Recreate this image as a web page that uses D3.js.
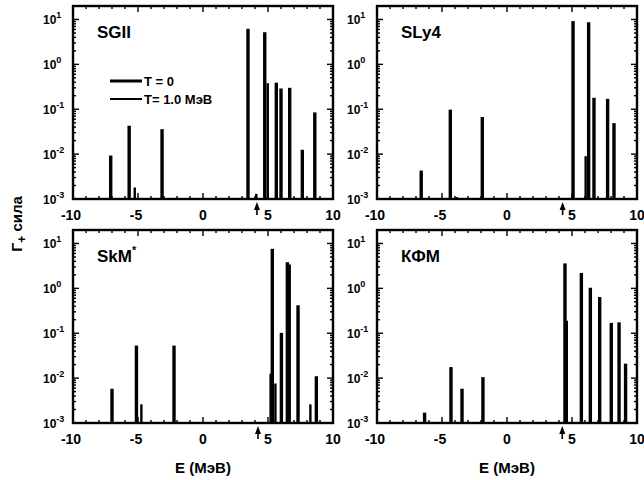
<!DOCTYPE html>
<html>
<head>
<meta charset="utf-8">
<script src="https://cdn.jsdelivr.net/npm/d3@7"></script>
<style>
  body { margin: 0; background: #fff; }
  text { font-family: "Liberation Sans", Arial, sans-serif; font-weight: bold; fill: #000; }
</style>
</head>
<body>
<svg id="chart" width="644" height="480"></svg>
<script>
// panel names
var panelNames = ["SGII", "SLy4", "SkM", "КФМ"]

// T = 0 (thick lines)
var energyT0 = [
    [-7.1, -5.68, -3.15, 3.46, 4.75, 5.64, 6.0, 6.67, 7.64, 8.6],
    [-6.6, -4.36, -1.9, 5.08, 6.28, 6.69, 7.74, 8.23],
    [-7.0, -5.12, -2.23, 5.33, 6.03, 6.49, 7.31, 8.72],
    [-6.34, -4.31, -3.46, -1.85, 4.46, 5.72, 6.41, 7.13, 8.02, 8.62, 9.12]
]
var strengthT0 = [
    [0.0093, 0.043, 0.036, 6.2, 5.2, 0.39, 0.29, 0.30, 0.0125, 0.085],
    [0.0043, 0.098, 0.067, 9.2, 8.7, 0.18, 0.17, 0.049],
    [0.0058, 0.053, 0.053, 7.6, 0.102, 3.8, 0.42, 0.011],
    [0.0017, 0.0176, 0.0058, 0.0105, 3.6, 2.2, 1.03, 0.64, 0.17, 0.175, 0.021]
]

// T = 1.0 MeV (thin lines)
var energyT1 = [
    [-5.25, 4.1, 4.98],
    [-3.85, 6.05],
    [-4.74, 5.2, 5.57, 6.67, 8.26],
    [4.6]
]
var strengthT1 = [
    [0.0018, 0.0013, 0.38],
    [0.0011, 0.009],
    [0.0026, 0.0125, 0.0076, 3.4, 0.0026],
    [0.19]
]

// threshold arrows
var arrowE = [4.15, 4.28, 4.23, 4.25]

var xTicks = [-10, -5, 0, 5, 10]
var yTicks = [1e-3, 1e-2, 1e-1, 1e0, 1e1]
var yExp = ["-3", "-2", "-1", "0", "1"]

var svg = d3.select("#chart")
var pw = 260, ph = 193
var lefts = [73, 377], tops = [6, 230]

var x = d3.scaleLinear().domain([-10, 10]).range([0, pw])
var y = d3.scaleLog().domain([1e-3, Math.pow(10, 1.3)]).range([ph, 0])

var minorX = d3.range(-10, 11, 1)
var minorY = []
for (var e = -3; e <= 1; e++) {
    for (var m = 2; m <= 9; m++) {
        if (m * Math.pow(10, e) < Math.pow(10, 1.3)) minorY.push(m * Math.pow(10, e))
    }
}

panelNames.forEach(function (name, i) {
    var g = svg.append("g")
        .attr("transform", "translate(" + lefts[i % 2] + "," + tops[Math.floor(i / 2)] + ")")

    // bars T = 0
    g.selectAll(".t0")
        .data(energyT0[i].map(function (d, k) { return { e: d, s: strengthT0[i][k] } }))
        .enter().append("line")
        .attr("x1", d => x(d.e)).attr("x2", d => x(d.e))
        .attr("y1", y(1e-3)).attr("y2", d => y(d.s))
        .attr("stroke", "#000").attr("stroke-width", 3.4)

    // bars T = 1.0
    g.selectAll(".t1")
        .data(energyT1[i].map(function (d, k) { return { e: d, s: strengthT1[i][k] } }))
        .enter().append("line")
        .attr("x1", d => x(d.e)).attr("x2", d => x(d.e))
        .attr("y1", y(1e-3)).attr("y2", d => y(d.s))
        .attr("stroke", "#000").attr("stroke-width", 2.4)

    // ticks, inward, on all four sides
    var tk = g.append("g").attr("stroke", "#000").attr("stroke-width", 1.4)
    minorX.forEach(function (v) {
        var len = (v % 5 == 0) ? 6 : 3
        tk.append("line").attr("x1", x(v)).attr("x2", x(v)).attr("y1", ph).attr("y2", ph - len)
        tk.append("line").attr("x1", x(v)).attr("x2", x(v)).attr("y1", 0).attr("y2", len)
    })
    yTicks.forEach(function (v) {
        tk.append("line").attr("x1", 0).attr("x2", 6).attr("y1", y(v)).attr("y2", y(v))
        tk.append("line").attr("x1", pw).attr("x2", pw - 6).attr("y1", y(v)).attr("y2", y(v))
    })
    minorY.forEach(function (v) {
        tk.append("line").attr("x1", 0).attr("x2", 3).attr("y1", y(v)).attr("y2", y(v))
        tk.append("line").attr("x1", pw).attr("x2", pw - 3).attr("y1", y(v)).attr("y2", y(v))
    })

    // frame
    g.append("rect")
        .attr("x", 0).attr("y", 0).attr("width", pw).attr("height", ph)
        .attr("fill", "none").attr("stroke", "#000").attr("stroke-width", 2.4)

    // x tick labels
    g.selectAll(".xl")
        .data(xTicks)
        .enter().append("text")
        .attr("x", d => x(d) - (d < 0 ? 2 : 0))
        .attr("y", ph + 21)
        .attr("text-anchor", "middle")
        .style("font-size", "14px")
        .text(d => d < 0 ? "-" + Math.abs(d) : d)

    // y tick labels
    var yl = g.selectAll(".yl")
        .data(yTicks)
        .enter().append("text")
        .attr("x", -30)
        .attr("y", d => y(d) + 5)
        .attr("text-anchor", "start")
        .style("font-size", "12px")
    yl.append("tspan").text("10")
    yl.append("tspan")
        .attr("dy", -6)
        .style("font-size", "9px")
        .text((d, k) => yExp[k])

    // threshold arrow
    var ax = x(arrowE[i])
    g.append("line")
        .attr("x1", ax).attr("x2", ax).attr("y1", ph + 16).attr("y2", ph + 8)
        .attr("stroke", "#000").attr("stroke-width", 1.6)
    g.append("path")
        .attr("d", "M" + (ax - 3) + "," + (ph + 11) + "L" + ax + "," + (ph + 3) + "L" + (ax + 3) + "," + (ph + 11) + "Z")
        .attr("fill", "#000")

    // panel name
    var nm = g.append("text")
        .attr("x", 24).attr("y", 32)
        .style("font-size", "17px")
        .text(name)
    if (name == "SkM") {
        nm.append("tspan").attr("dy", -8).style("font-size", "11px").text("*")
    }

    // x axis title on bottom row
    if (i >= 2) {
        g.append("text")
            .attr("x", x(0)).attr("y", ph + 50)
            .attr("text-anchor", "middle")
            .style("font-size", "15px")
            .text("E (МэВ)")
    }
})

// legend in first panel
var legendLabels = ["T = 0", "T= 1.0 МэВ"]
var legendWidths = [3, 2]
var lg = svg.append("g").attr("transform", "translate(110,81)")
legendLabels.forEach(function (lab, k) {
    lg.append("line")
        .attr("x1", 0).attr("x2", 32).attr("y1", k * 18).attr("y2", k * 18)
        .attr("stroke", "#000").attr("stroke-width", legendWidths[k])
    lg.append("text")
        .attr("x", 34).attr("y", k * 18 + 5)
        .style("font-size", "13px")
        .text(lab)
})

// y axis title
var yt = svg.append("text")
    .attr("transform", "translate(22,224) rotate(-90)")
    .attr("text-anchor", "middle")
    .style("font-size", "15px")
yt.append("tspan").text("Γ")
yt.append("tspan").attr("dy", 4).style("font-size", "12px").text("+")
yt.append("tspan").attr("dy", -4).text(" сила")
</script>
</body>
</html>
